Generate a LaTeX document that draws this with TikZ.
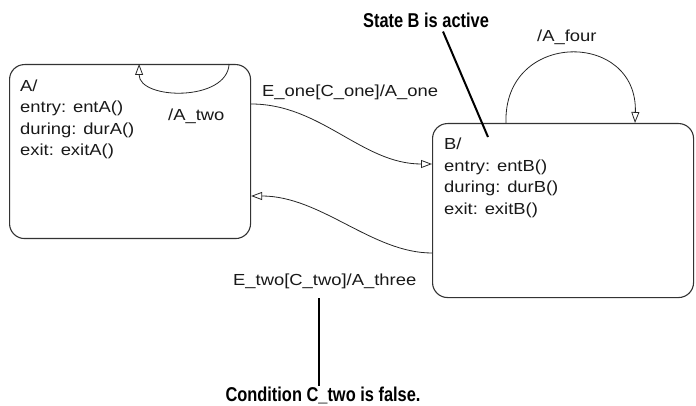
\documentclass[tikz,border=0pt]{standalone}
\usepackage{fontspec}
\setmainfont{Liberation Sans}[FakeStretch=1.15]
\newfontfamily\notefont{Liberation Sans Bold}[FakeStretch=0.82]
\usetikzlibrary{arrows.meta}
\begin{document}
\begin{tikzpicture}[x=1pt,y=-1pt,
  state/.style={draw=black!80, line width=1.1pt, rounded corners=15pt, inner sep=0pt},
  trans/.style={draw=black!85, line width=0.8pt, -{Triangle[open,length=11pt,width=8pt]}},
  lbl/.style={inner sep=0pt, font=\fontsize{16}{18}\selectfont, text=black!90},
  note/.style={inner sep=0pt, font=\notefont\fontsize{20}{22}\selectfont},
  pointer/.style={line width=2pt, black}]
\useasboundingbox (0,0) rectangle (696,406);
% states
\node[state, minimum width=241pt, minimum height=174pt, anchor=north west] (A) at (9,64) {};
\node[state, minimum width=261pt, minimum height=174pt, anchor=north west] (B) at (432,123) {};
% state texts
\node[lbl, anchor=base west] (A1) at (20,91.5) {A/};
\node[lbl, anchor=base west] (A2) at (20,113) {entry: entA()};
\node[lbl, anchor=base west] (A3) at (20,134.5) {during: durA()};
\node[lbl, anchor=base west] (A4) at (20,156) {exit: exitA()};
\node[lbl, anchor=base west] (B1) at (444,150) {B/};
\node[lbl, anchor=base west] (B2) at (444,171.5) {entry: entB()};
\node[lbl, anchor=base west] (B3) at (444,193) {during: durB()};
\node[lbl, anchor=base west] (B4) at (444,214.5) {exit: exitB()};
% transitions
\draw[trans] ([yshift=-40pt]A.north east) .. controls +(70,0) and +(-70,0) .. ([yshift=-41pt]B.north west);
\draw[trans] ([yshift=-130pt]B.north west) .. controls +(-60,0) and +(70,0) .. ([yshift=-132pt]A.north east);
\draw[trans] ([xshift=-22pt]A.north east) .. controls +(-2,38) and +(0,36) .. ([xshift=-112pt]A.north east);
\draw[trans] ([xshift=74pt]B.north west) .. controls +(-3,-93) and +(3,-93) .. ([xshift=203pt]B.north west);
% transition labels
\node[lbl, anchor=west] (lAtwo) at (168,116) {/A\_two};
\node[lbl, anchor=west] (lEone) at (262,92) {E\_one[C\_one]/A\_one};
\node[lbl, anchor=west] (lAfour) at (537,37) {/A\_four};
\node[lbl, anchor=west] (lEtwo) at (233,281) {E\_two[C\_two]/A\_three};
% notes
\node[note] (noteB) at (426,20) {State B is active};
\node[note] (noteC) at (323,395) {Condition C\_two is false.};
\coordinate (pB) at (488,137);
\coordinate (pC) at (319,298);
\draw[pointer] ([xshift=17pt,yshift=-4pt]noteB.south) -- (pB);
\draw[pointer] (pC) -- (pC |- noteC.north);
\end{tikzpicture}
\end{document}
